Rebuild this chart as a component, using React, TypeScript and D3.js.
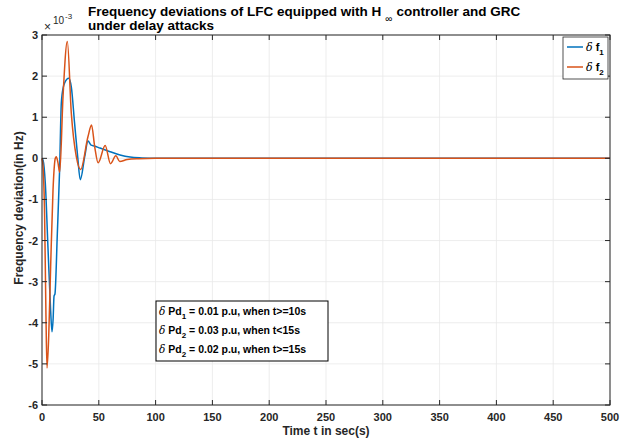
import React from "react";
import * as d3 from "d3";

// time (s) and frequency deviations (x1e-3 Hz)
const tF1 = [0, 1, 2.9, 5.3, 7.6, 8.8, 9.8, 10.6, 11.4, 13.5, 15.5, 17, 18.8, 20, 23.5, 25.8, 28.7, 31.4, 33.7, 37.6, 40.5, 43.2, 46, 51, 60, 68.7, 77.5, 88, 100, 200, 500];
const vF1 = [0, -0.05, -0.6, -2.2, -3.7, -4.22, -3.9, -3.35, -3.3, -1.82, -0.28, 1.34, 1.74, 1.84, 1.95, 1.74, 0.85, 0.04, -0.52, 0.04, 0.42, 0.32, 0.3, 0.25, 0.16, 0.08, 0.03, 0.01, 0, 0, 0];
const tF2 = [0, 0.9, 2.3, 3.5, 4.4, 5.9, 7.6, 9.7, 11.7, 12.6, 14, 15.6, 18.5, 22.3, 25.8, 30.2, 34, 40.5, 43.6, 46.4, 49.4, 55.6, 60.3, 65, 68.5, 75, 85, 100, 200, 500];
const vF2 = [0, -0.2, -1.4, -3.85, -5.1, -4.34, -2.64, -0.77, 0, 0.04, -0.1, -0.34, 1.5, 2.84, 1.1, 0.04, -0.27, 0.53, 0.81, 0.28, -0.11, 0.31, -0.13, 0.06, -0.08, -0.03, -0.01, 0, 0, 0];

const xTicks = [0, 50, 100, 150, 200, 250, 300, 350, 400, 450, 500];
const yTicks = [-6, -5, -4, -3, -2, -1, 0, 1, 2, 3];

const legendNames = ["f", "f"];
const legendSubs = ["1", "2"];
const colors = ["#0072BD", "#D95319"];

const noteLines = [
  { sub: "1", text: " = 0.01 p.u, when t>=10s" },
  { sub: "2", text: " = 0.03 p.u, when t<15s" },
  { sub: "2", text: " = 0.02 p.u, when t>=15s" },
];

const W = 632;
const H = 441;
const m = { top: 35, right: 22, bottom: 36, left: 42 };

export default function App() {
  const x = d3.scaleLinear().domain([0, 500]).range([m.left, W - m.right]);
  const y = d3.scaleLinear().domain([-6, 3]).range([H - m.bottom, m.top]);
  const line = d3
    .line<[number, number]>()
    .x((d) => x(d[0]))
    .y((d) => y(d[1]))
    .curve(d3.curveMonotoneX);

  const s1 = tF1.map((t, i) => [t, vF1[i]] as [number, number]);
  const s2 = tF2.map((t, i) => [t, vF2[i]] as [number, number]);

  const font = "Arial, 'Liberation Sans', Helvetica, sans-serif";
  const axisCol = "#262626";
  const x0 = x(0), x1 = x(500), y0 = y(-6), y1 = y(3);

  return (
    <svg width={W} height={H} style={{ position: "absolute", left: 0, top: 0, background: "#fff" }} fontFamily={font}>
      <rect x={0} y={0} width={W} height={H} fill="#fff" />
      {/* grid */}
      {xTicks.map((t) => (
        <line key={"gx" + t} x1={x(t)} x2={x(t)} y1={y0} y2={y1} stroke="#e8e8e8" strokeWidth={0.8} />
      ))}
      {yTicks.map((t) => (
        <line key={"gy" + t} x1={x0} x2={x1} y1={y(t)} y2={y(t)} stroke="#e8e8e8" strokeWidth={0.8} />
      ))}

      {/* series */}
      <path d={line(s1) || ""} fill="none" stroke={colors[0]} strokeWidth={1.5} strokeLinejoin="round" />
      <path d={line(s2) || ""} fill="none" stroke={colors[1]} strokeWidth={1.5} strokeLinejoin="round" />

      {/* box and ticks */}
      <rect x={x0} y={y1} width={x1 - x0} height={y0 - y1} fill="none" stroke={axisCol} strokeWidth={1} />
      {xTicks.map((t) => (
        <g key={"tx" + t}>
          <line x1={x(t)} x2={x(t)} y1={y0} y2={y0 - 5} stroke={axisCol} />
          <line x1={x(t)} x2={x(t)} y1={y1} y2={y1 + 5} stroke={axisCol} />
          <text x={x(t)} y={y0 + 16} textAnchor="middle" fontSize={11} fontWeight="bold" fill={axisCol}>
            {t}
          </text>
        </g>
      ))}
      {yTicks.map((t) => (
        <g key={"ty" + t}>
          <line x1={x0} x2={x0 + 5} y1={y(t)} y2={y(t)} stroke={axisCol} />
          <line x1={x1} x2={x1 - 5} y1={y(t)} y2={y(t)} stroke={axisCol} />
          <text x={x0 - 4} y={y(t) + 4} textAnchor="end" fontSize={11} fontWeight="bold" fill={axisCol}>
            {t}
          </text>
        </g>
      ))}

      {/* exponent */}
      <text x={44} y={31} fontSize={12} fill={axisCol}>×</text>
      <text x={53} y={24} fontSize={10} fill={axisCol}>10</text>
      <text x={65} y={19} fontSize={8} fill={axisCol}>-3</text>

      {/* title */}
      <text x={88} y={16} fontSize={13.5} fontWeight="bold" fill="#000">
        Frequency deviations of LFC equipped with H
        <tspan dx={4} dy={6} fontSize={10} fontWeight="normal">∞</tspan>
        <tspan dx={4} dy={-6}>controller and GRC</tspan>
      </text>
      <text x={88} y={30} fontSize={13.5} fontWeight="bold" fill="#000">under delay attacks</text>

      {/* axis labels */}
      <text x={(x0 + x1) / 2} y={435} textAnchor="middle" fontSize={12} fontWeight="bold" fill={axisCol}>
        Time t in sec(s)
      </text>
      <text transform={`translate(23,${(y0 + y1) / 2})`} textAnchor="middle" fontSize={12} fontWeight="bold" fill={axisCol}>
        <tspan>{""}</tspan>
      </text>
      <text transform={`translate(23,208) rotate(-90)`} textAnchor="middle" fontSize={12} fontWeight="bold" fill={axisCol}>
        Frequency deviation(in Hz)
      </text>

      {/* legend */}
      <rect x={563} y={37} width={45} height={42} fill="#fff" stroke={axisCol} strokeWidth={0.8} />
      {legendNames.map((n, i) => (
        <g key={"lg" + i}>
          <line x1={567} x2={583} y1={47 + i * 20} y2={47 + i * 20} stroke={colors[i]} strokeWidth={1.5} />
          <text x={586} y={51 + i * 20} fontSize={11} fontWeight="bold" fill="#000">
            <tspan fontFamily="DejaVu Serif, serif" fontStyle="italic" fontWeight="normal">δ</tspan>
            <tspan dx={3}>{n}</tspan>
            <tspan dy={4} fontSize={8}>{legendSubs[i]}</tspan>
          </text>
        </g>
      ))}

      {/* annotation box */}
      <rect x={156} y={301} width={172} height={60} fill="#fff" stroke="#000" strokeWidth={1} />
      {noteLines.map((l, i) => (
        <text key={"nl" + i} x={159} y={315 + i * 19} fontSize={10.5} fontWeight="bold" fill="#000">
          <tspan fontFamily="DejaVu Serif, serif" fontStyle="italic" fontWeight="normal">δ</tspan>
          <tspan dx={3}>Pd</tspan>
          <tspan dy={4} fontSize={8}>{l.sub}</tspan>
          <tspan dy={-4}>{l.text}</tspan>
        </text>
      ))}
    </svg>
  );
}
